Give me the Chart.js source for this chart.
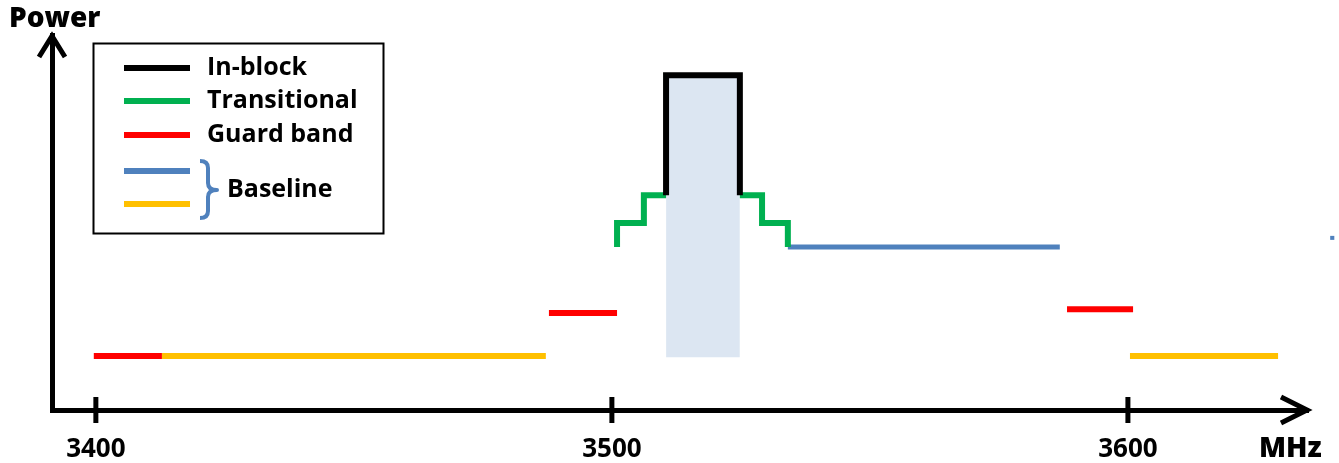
<!DOCTYPE html>
<html>
<head>
<meta charset="utf-8">
<script src="https://cdn.jsdelivr.net/npm/chart.js@4"></script>
<style>
  html, body { margin: 0; padding: 0; background: #fff; }
  #wrap { width: 1339px; height: 463px; position: relative; }
</style>
</head>
<body>
<div id="wrap"><canvas id="c" width="1339" height="463"></canvas></div>
<script>
// ---- data (frequency in MHz, power in arbitrary units 0..100) ----
const xTickValues = [3400, 3500, 3600];
const xTickLabels = ['3400', '3500', '3600'];
const xRange = [3391.5, 3634.9];
const yRange = [0, 100];

const legendLabels = ['In-block', 'Transitional', 'Guard band', 'Baseline'];
const xAxisTitle = 'MHz';
const yAxisTitle = 'Power';

const inBlockX = [3510.5, 3510.5, 3524.8, 3524.8];
const inBlockY = [57.3, 89.3, 89.3, 57.3];

const transLeftX = [3501.0, 3501.0, 3506.2, 3506.2, 3510.5];
const transLeftY = [43.5, 49.9, 49.9, 57.3, 57.3];
const transRightX = [3524.8, 3529.1, 3529.1, 3534.1, 3534.1];
const transRightY = [57.3, 57.3, 49.9, 49.9, 43.5];

const guardLowX = [3399.6, 3412.8];
const guardLowY = [14.4, 14.4];
const guardLeftX = [3487.8, 3501.0];
const guardLeftY = [25.9, 25.9];
const guardRightX = [3588.2, 3601.0];
const guardRightY = [26.9, 26.9];

const baseBlueX = [3534.1, 3586.8];
const baseBlueY = [43.5, 43.5];
const baseBlueStrayX = [3639.2, 3640.0];
const baseBlueStrayY = [45.9, 45.9];
const baseYellowLeftX = [3412.8, 3487.2];
const baseYellowLeftY = [14.4, 14.4];
const baseYellowRightX = [3600.4, 3629.1];
const baseYellowRightY = [14.4, 14.4];

const blockFillX = [3510.5, 3524.8];
const blockFillTop = [89.3, 89.3];
const blockFillBottom = 14.1;

// ---- styles ----
const C_BLACK = '#000000', C_GREEN = '#00b050', C_RED = '#ff0000',
      C_BLUE = '#4f81bd', C_YELLOW = '#ffc000', C_FILL = '#dce6f2';
const FONT = '"Open Sans", "DejaVu Sans", sans-serif';

function pts(xs, ys) { return xs.map((x, i) => ({ x: x, y: ys[i] })); }
function seg(xs, ys, color, width, extra) {
  return Object.assign({
    data: pts(xs, ys), borderColor: color, borderWidth: width,
    pointRadius: 0, fill: false, tension: 0,
    borderJoinStyle: 'miter', borderCapStyle: 'butt'
  }, extra || {});
}

const datasets = [
  seg(inBlockX, inBlockY, C_BLACK, 6),
  seg(transLeftX, transLeftY, C_GREEN, 6),
  seg(transRightX, transRightY, C_GREEN, 6),
  seg(guardLowX, guardLowY, C_RED, 6),
  seg(guardLeftX, guardLeftY, C_RED, 6),
  seg(guardRightX, guardRightY, C_RED, 6),
  seg(baseBlueX, baseBlueY, C_BLUE, 5),
  seg(baseBlueStrayX, baseBlueStrayY, C_BLUE, 4, { clip: false }),
  seg(baseYellowLeftX, baseYellowLeftY, C_YELLOW, 6),
  seg(baseYellowRightX, baseYellowRightY, C_YELLOW, 6),
  {
    data: pts(blockFillX, blockFillTop), borderWidth: 0, borderColor: 'rgba(0,0,0,0)',
    pointRadius: 0, backgroundColor: C_FILL, fill: { value: blockFillBottom }
  }
];

const decor = {
  id: 'decor',
  afterDraw(chart) {
    const ctx = chart.ctx, xs = chart.scales.x;
    const ca = chart.chartArea;
    ctx.save();
    ctx.strokeStyle = C_BLACK; ctx.fillStyle = C_BLACK;
    // tick marks crossing the x axis
    ctx.lineWidth = 5;
    xTickValues.forEach(v => {
      const px = xs.getPixelForValue(v);
      ctx.beginPath(); ctx.moveTo(px, ca.bottom - 13); ctx.lineTo(px, ca.bottom + 13); ctx.stroke();
    });
    // arrowheads
    ctx.lineWidth = 5; ctx.lineJoin = 'miter'; ctx.lineCap = 'butt';
    ctx.beginPath();
    ctx.moveTo(ca.right - 27, ca.bottom - 13); ctx.lineTo(ca.right - 1, ca.bottom); ctx.lineTo(ca.right - 27, ca.bottom + 13);
    ctx.stroke();
    ctx.beginPath();
    ctx.moveTo(ca.left - 13, ca.top + 22); ctx.lineTo(ca.left, ca.top + 1); ctx.lineTo(ca.left + 13, ca.top + 22);
    ctx.stroke();
    // axis titles
    ctx.textBaseline = 'middle';
    ctx.font = '800 28px ' + FONT;
    ctx.textAlign = 'left';
    ctx.fillText(yAxisTitle, 9, 19);
    ctx.fillText(xAxisTitle, 1259, 449);
    // legend box
    ctx.lineWidth = 2;
    ctx.strokeRect(93.5, 43.5, 290, 190);
    const lineColors = [C_BLACK, C_GREEN, C_RED, C_BLUE, C_YELLOW];
    const lineYs = [68, 101, 135, 171, 204];
    ctx.lineWidth = 6;
    lineColors.forEach((c, i) => {
      ctx.strokeStyle = c;
      ctx.beginPath(); ctx.moveTo(124, lineYs[i]); ctx.lineTo(190, lineYs[i]); ctx.stroke();
    });
    ctx.fillStyle = C_BLACK;
    ctx.font = 'bold 25px ' + FONT;
    ctx.fillText(legendLabels[0], 207, 68);
    ctx.fillText(legendLabels[1], 207, 101);
    ctx.fillText(legendLabels[2], 207, 135);
    ctx.fillText(legendLabels[3], 227, 190);
    // brace
    ctx.strokeStyle = C_BLUE; ctx.lineWidth = 4; ctx.lineJoin = 'round';
    ctx.beginPath();
    ctx.moveTo(200, 161);
    ctx.quadraticCurveTo(208, 161, 208, 168);
    ctx.lineTo(208, 183);
    ctx.quadraticCurveTo(208, 190, 217, 190);
    ctx.quadraticCurveTo(208, 190, 208, 197);
    ctx.lineTo(208, 211);
    ctx.quadraticCurveTo(208, 218, 200, 218);
    ctx.stroke();
    ctx.restore();
  }
};

new Chart(document.getElementById('c'), {
  type: 'line',
  data: { datasets: datasets },
  plugins: [decor],
  options: {
    responsive: false,
    animation: false,
    devicePixelRatio: 1,
    layout: { padding: { top: 35, right: 31, left: 0, bottom: 0 } },
    plugins: { legend: { display: false }, tooltip: { enabled: false } },
    scales: {
      x: {
        type: 'linear', min: xRange[0], max: xRange[1],
        afterBuildTicks: s => { s.ticks = xTickValues.map(v => ({ value: v })); },
        afterFit: s => { s.height = 53; },
        grid: { display: false, drawTicks: false },
        border: { display: true, color: C_BLACK, width: 5 },
        ticks: {
          callback: (v) => xTickLabels[xTickValues.indexOf(v)],
          color: C_BLACK, padding: 24, maxRotation: 0, autoSkip: false,
          font: { family: FONT, size: 26, weight: 'bold' }
        }
      },
      y: {
        type: 'linear', min: yRange[0], max: yRange[1],
        afterFit: s => { s.width = 52; },
        grid: { display: false, drawTicks: false },
        border: { display: true, color: C_BLACK, width: 5 },
        ticks: { display: false }
      }
    }
  }
});
</script>
</body>
</html>
